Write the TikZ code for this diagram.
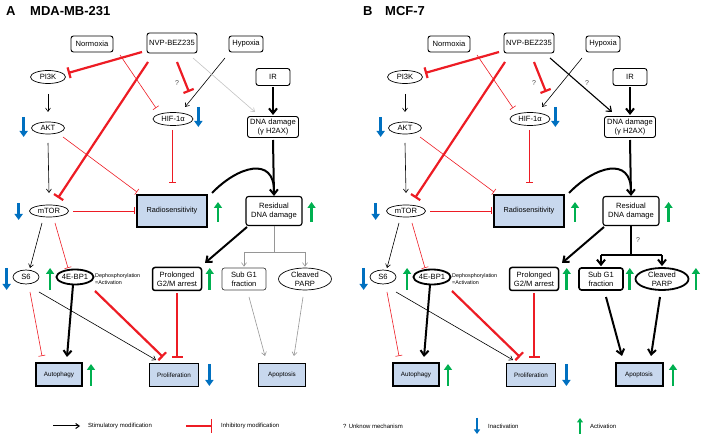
\documentclass[tikz,border=0pt]{standalone}
\usepackage{fontspec}
\setmainfont{Liberation Sans}
\usetikzlibrary{arrows.meta,shapes.geometric,calc}
\definecolor{myred}{RGB}{237,28,36}
\definecolor{myblue}{RGB}{0,112,192}
\definecolor{mygreen}{RGB}{0,176,80}
\definecolor{boxfill}{RGB}{200,216,238}
\definecolor{lgray}{RGB}{195,195,195}
\definecolor{mgray}{RGB}{150,150,150}
\tikzset{
 base/.style={font=\fontsize{7.6}{8.6}\selectfont, inner sep=0pt, align=center},
 rbox/.style={base, draw, rounded corners=2.5pt, line width=0.9pt},
 rboxthick/.style={rbox, line width=1.6pt},
 ell/.style={base, ellipse, draw, line width=0.7pt},
 ellthick/.style={ell, line width=1.8pt},
 outbox/.style={base, draw, fill=boxfill, line width=0.8pt, font=\fontsize{6.3}{7.3}\selectfont},
 outthick/.style={outbox, line width=2pt},
 stim/.style={line width=0.6pt, -{Straight Barb[length=3.5pt,width=5pt]}},
 stimthick/.style={line width=2pt, -{Straight Barb[length=5pt,width=8pt]}},
 inhib/.style={draw=myred, line width=0.6pt, -{Bar[width=7pt]}},
 inhibthick/.style={draw=myred, line width=2.2pt, -{Bar[width=11pt]}},
 leginhib/.style={draw=myred, line width=1.3pt, -{Bar[width=14pt]}},
 downarr/.style={draw=myblue, fill=myblue, line width=2.8pt, -{Triangle[length=6pt,width=8pt]}},
 uparr/.style={draw=mygreen, fill=mygreen, line width=2.8pt, -{Triangle[length=6pt,width=8pt]}},
 qmark/.style={inner sep=0pt, font=\fontsize{7}{8}\selectfont, text=black!70},
 legtext/.style={inner sep=0pt, anchor=west, font=\fontsize{6}{7}\selectfont},
 titletext/.style={inner sep=0pt, anchor=west, font=\bfseries\fontsize{13}{15}\selectfont},
}
% #1 = prefix, #2 = fork offset below residual centre
\newcommand\panelcommon[2]{%
 \node[rbox, minimum width=42pt, minimum height=16pt] (#1norm) at (92,44) {Normoxia};
 \node[rbox, minimum width=50pt, minimum height=20pt] (#1nvp) at (172,43) {NVP-BEZ235};
 \node[rbox, minimum width=34pt, minimum height=16pt] (#1hyp) at (246,44) {Hypoxia};
 \node[ell, minimum width=35pt, minimum height=13pt] (#1pi3k) at (48,77) {PI3K};
 \node[ell, minimum width=33pt, minimum height=12pt] (#1akt) at (48,128) {AKT};
 \node[ell, minimum width=40pt, minimum height=13pt] (#1hif) at (173,119) {HIF-1α};
 \node[rbox, minimum width=34pt, minimum height=17pt] (#1ir) at (273,77) {IR};
 \node[rbox, minimum width=51pt, minimum height=21pt] (#1dna) at (273,127) {DNA damage\\(γ H2AX)};
 \node[ell, minimum width=39pt, minimum height=12pt] (#1mtor) at (49,211) {mTOR};
 \node[outthick, font=\fontsize{7.3}{8.3}\selectfont, minimum width=70pt, minimum height=32pt] (#1radio) at (172,211) {Radiosensitivity};
 \node[rbox, line width=1.1pt, minimum width=56pt, minimum height=29pt] (#1resid) at (274,211) {Residual\\DNA damage};
 \node[ell, minimum width=26pt, minimum height=14pt] (#1s6) at (26,277) {S6};
 \node[ellthick, minimum width=35pt, minimum height=15pt] (#1bp1) at (75,277) {4E-BP1};
 \node[inner sep=0pt, anchor=west, align=left, font=\fontsize{5.4}{6.2}\selectfont] (#1deph) at (95,279) {Dephosphorylation\\=Activation};
 \node[rbox, line width=1.5pt, minimum width=49pt, minimum height=23pt] (#1prol) at (177,279) {Prolonged\\G2/M arrest};
 \node[subgstyle, minimum width=44pt, minimum height=22pt] (#1subg1) at (244,279) {Sub G1\\fraction};
 \node[parpstyle, minimum width=53pt, minimum height=22pt] (#1parp) at (305,279) {Cleaved\\PARP};
 \node[outthick, minimum width=46pt, minimum height=23pt] (#1auto) at (59,375) {Autophagy};
 \node[outbox, minimum width=49pt, minimum height=23pt] (#1prolif) at (174,375) {Proliferation};
 \node[apopstyle, minimum width=47pt, minimum height=23pt] (#1apop) at (282,375) {Apoptosis};
 \node[qmark] (#1q1) at (177,83) {?};
 % connectors
 \draw[inhibthick] ($(#1nvp)+(-30,9)$) -- ($(#1pi3k)+(20,-4)$);
 \draw[inhibthick] ($(#1nvp)+(-24,19)$) -- ($(#1mtor)+(9,-13)$);
 \draw[inhibthick] ($(#1nvp)+(5,19)$) -- ($(#1hif)+(16,-27)$);
 \draw[inhib] ($(#1norm)+(28,11)$) -- ($(#1hif)+(-17,-11)$);
 \draw[stim] ($(#1hyp)+(-21,14)$) -- ($(#1hif)+(12,-12)$);
 \draw[nvpdna] ($(#1nvp)+(21,15)$) -- ($(#1dna)+(-18,-15)$);
 \draw[stimthick] ($(#1ir)+(0,10)$) -- ($(#1dna)+(0,-12)$);
 \draw[stim] ($(#1pi3k)+(0,17)$) -- ($(#1akt)+(0,-16)$);
 \draw[stim] ($(#1akt)+(0,15)$) -- ($(#1mtor)+(0,-18)$);
 \draw[inhib] ($(#1akt)+(15,9)$) -- ($(#1radio)+(-35,-19)$);
 \draw[inhib] ($(#1hif)+(-1,11)$) -- ($(#1radio)+(0,-28)$);
 \draw[inhib] ($(#1mtor)+(24,0)$) -- ($(#1radio)+(-37,0)$);
 \draw[stimthick] ($(#1dna)+(0,13)$) -- ($(#1resid)+(0,-15)$);
 \draw[line width=2pt] ($(#1radio)+(40,-18)$) .. controls ($(#1radio)+(66,-45)$) and ($(#1resid)+(0,-55)$) .. ($(#1resid)+(0,-20)$);
 \draw[stimthick] ($(#1resid)+(-27,16)$) -- ($(#1prol)+(28,-16)$);
 \draw[forkline] ($(#1resid)+(0,15)$) -- ($(#1resid)+(0,#2)$) coordinate (#1fork);
 \draw[forkline] (#1subg1 |- #1fork) -- (#1parp |- #1fork);
 \draw[forkarr] (#1subg1 |- #1fork) -- ($(#1subg1.north)+(0,-1)$);
 \draw[forkarr] (#1parp |- #1fork) -- ($(#1parp.north)+(0,-1)$);
 \draw[stim] ($(#1mtor)+(-7,12)$) -- ($(#1s6)+(4,-9)$);
 \draw[inhib] ($(#1mtor)+(6,12)$) -- ($(#1bp1)+(-7,-9)$);
 \draw[inhib] ($(#1s6)+(4,15)$) -- ($(#1auto)+(-17,-19)$);
 \draw[stimthick] ($(#1bp1)+(-2,8)$) -- ($(#1auto)+(8,-18)$);
 \draw[stim] ($(#1s6)+(13,15)$) -- ($(#1prolif)+(-18,-15)$);
 \draw[inhibthick] ($(#1bp1)+(20,14)$) -- ($(#1prolif)+(-11,-18)$);
 \draw[inhibthick] ($(#1prol)+(0,14)$) -- ($(#1prolif)+(3,-17)$);
 \draw[apoarr] ($(#1subg1)+(5,18)$) -- ($(#1apop)+(-17,-19)$);
 \draw[apoarr] ($(#1parp)+(-2,18)$) -- ($(#1apop)+(12,-19)$);
 % activity indicators
 \draw[downarr] ($(#1akt.west)+(-7.5,-11)$) -- ($(#1akt.west)+(-7.5,9)$);
 \draw[downarr] ($(#1hif.east)+(5,-12)$) -- ($(#1hif.east)+(5,8)$);
 \draw[downarr] ($(#1mtor.west)+(-10.5,-8)$) -- ($(#1mtor.west)+(-10.5,9)$);
 \draw[uparr] ($(#1radio.east)+(10,11)$) -- ($(#1radio.east)+(10,-9)$);
 \draw[uparr] ($(#1resid.east)+(9,11)$) -- ($(#1resid.east)+(9,-9)$);
 \draw[downarr] ($(#1s6.west)+(-6,-9)$) -- ($(#1s6.west)+(-6,13)$);
 \draw[uparr] ($(#1bp1.west)+(-5.5,13)$) -- ($(#1bp1.west)+(-5.5,-9)$);
 \draw[uparr] ($(#1prol.east)+(7.5,11)$) -- ($(#1prol.east)+(7.5,-11)$);
 \draw[uparr] ($(#1auto.east)+(8,11)$) -- ($(#1auto.east)+(8,-11)$);
 \draw[downarr] ($(#1prolif.east)+(10.5,-11)$) -- ($(#1prolif.east)+(10.5,11)$);
}
\begin{document}
\begin{tikzpicture}[x=1pt,y=-1pt]
\useasboundingbox (0,0) rectangle (702,438);
% Panel A
\node[titletext] (tA) at (6,11) {A};
\node[titletext] (tAname) at (30,11) {MDA-MB-231};
\begin{scope}[
 nvpdna/.style={draw=lgray, line width=0.6pt, -{Straight Barb[length=3.5pt,width=5pt]}},
 forkline/.style={draw=mgray, line width=0.6pt},
 forkarr/.style={draw=mgray, line width=0.6pt, -{Straight Barb[length=3.5pt,width=5pt]}},
 apoarr/.style={draw=mgray, line width=0.6pt, -{Straight Barb[length=3.5pt,width=5pt]}},
 subgstyle/.style={rbox, line width=0.7pt, draw=black!75},
 parpstyle/.style={ell},
 apopstyle/.style={outbox}]
 \panelcommon{a}{41}
\end{scope}
% Panel B
\node[titletext] (tB) at (363,11) {B};
\node[titletext] (tBname) at (385,11) {MCF-7};
\begin{scope}[xshift=357pt,
 nvpdna/.style={draw=black, line width=1.1pt, -{Straight Barb[length=4.5pt,width=7pt]}},
 forkline/.style={draw=black, line width=2pt},
 forkarr/.style={stimthick},
 apoarr/.style={stimthick},
 subgstyle/.style={rboxthick},
 parpstyle/.style={ellthick},
 apopstyle/.style={outthick}]
 \panelcommon{b}{44}
 \node[qmark] (bq2) at (230,83) {?};
 \node[qmark] (bq3) at (281,240) {?};
 \draw[uparr] ($(bsubg1.east)+(6,11)$) -- ($(bsubg1.east)+(6,-11)$);
 \draw[uparr] ($(bparp.east)+(6.5,11)$) -- ($(bparp.east)+(6.5,-11)$);
 \draw[uparr] ($(bapop.east)+(9.5,11)$) -- ($(bapop.east)+(9.5,-11)$);
\end{scope}
% Legend
\coordinate (ls1) at (53,426); \coordinate (ls2) at (80,426);
\draw[line width=1pt, -{Straight Barb[length=3.5pt,width=5pt]}] (ls1) -- (ls2);
\node[legtext] (lt1) at (88,426) {Stimulatory modification};
\coordinate (li1) at (186,426); \coordinate (li2) at (212,426);
\draw[leginhib] (li1) -- (li2);
\node[legtext] (lt2) at (221,426) {Inhibitory modification};
\node[legtext] (lt3) at (343,426) {? Unknow mechanism};
\coordinate (ld1) at (477,418); \coordinate (ld2) at (477,434);
\draw[draw=myblue, fill=myblue, line width=2pt, -{Triangle[length=4.5pt,width=6pt]}] (ld1) -- (ld2);
\node[legtext] (lt4) at (488,426) {Inactivation};
\coordinate (lu1) at (580,434); \coordinate (lu2) at (580,418);
\draw[draw=mygreen, fill=mygreen, line width=2pt, -{Triangle[length=4.5pt,width=6pt]}] (lu1) -- (lu2);
\node[legtext] (lt5) at (590,426) {Activation};
\end{tikzpicture}
\end{document}
